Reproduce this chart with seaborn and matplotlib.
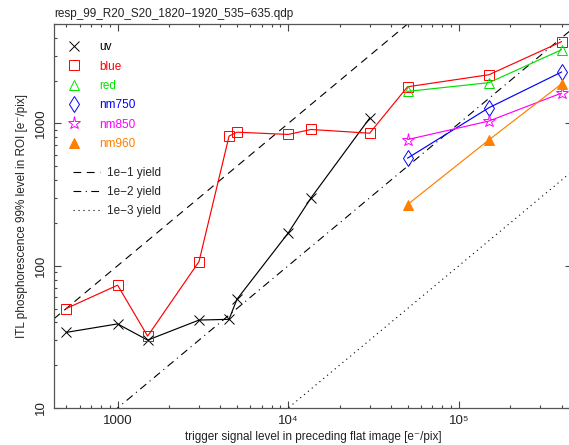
import numpy as np
import pandas as pd
import seaborn as sns
import matplotlib.pyplot as plt
from matplotlib.lines import Line2D
from matplotlib.ticker import FixedLocator, FixedFormatter, LogLocator, NullFormatter

sns.set_style("ticks")
plt.rcParams['font.family'] = ['Liberation Sans', 'DejaVu Sans']

# data (x: trigger level, y: 99% phosphorescence level)
uv_x = [500, 1000, 1500, 3000, 4500, 5000, 10000, 13600, 30000]
uv_y = [34, 39, 30, 41.5, 42, 58, 170, 300, 1090]
blue_x = [500, 1000, 1500, 3000, 4500, 5000, 10000, 13600, 30000, 50000, 150000, 400000]
blue_y = [50, 73, 32, 107, 815, 868, 837, 907, 854, 1810, 2200, 3760]
red_x = [50000, 150000, 400000]
red_y = [1680, 1935, 3300]
nm750_x = [50000, 150000, 400000]
nm750_y = [570, 1290, 2300]
nm850_x = [50000, 150000, 400000]
nm850_y = [770, 1040, 1635]
nm960_x = [50000, 150000, 400000]
nm960_y = [269, 767, 1900]

yields = [1e-1, 1e-2, 1e-3]
yield_labels = ['1e\u22121 yield', '1e\u22122 yield', '1e\u22123 yield']
yield_styles = [(0, (7, 5)), (0, (7, 4, 1, 4)), (0, (1, 3.5))]

series = [
    ('uv', uv_x, uv_y, 'black', 'x', 'black'),
    ('blue', blue_x, blue_y, '#ff0000', 's', 'none'),
    ('red', red_x, red_y, '#00e000', '^', 'none'),
    ('nm750', nm750_x, nm750_y, '#0000ff', 'd', 'none'),
    ('nm850', nm850_x, nm850_y, '#ff00ff', '*', 'none'),
    ('nm960', nm960_x, nm960_y, '#ff7f00', '^', '#ff7f00'),
]
sizes = {'x': 7, 's': 7.5, '^': 7.5, 'd': 8, '*': 9.5}

fig = plt.figure(figsize=(5.69, 4.45), dpi=100)
ax = fig.add_axes([54 / 569, 37 / 445, 518 / 569, 384 / 445])
ax.set_xscale('log')
ax.set_yscale('log')
xlim = (424, 4.6e5)
ax.set_xlim(xlim)
ax.set_ylim(10, 5000)

# reference yield lines y = yield * x
xx = np.array(xlim)
for yl, ls in zip(yields, yield_styles):
    ax.plot(xx, yl * xx, color='black', lw=0.8, linestyle=ls)

handles = []
for name, xs, ys, col, mk, fc in series:
    df = pd.DataFrame({'x': xs, 'y': ys})
    ms = sizes[mk]
    sns.lineplot(data=df, x='x', y='y', ax=ax, color=col, lw=0.85,
                 marker=mk, markersize=ms, markerfacecolor=fc,
                 markeredgecolor=col, markeredgewidth=0.7)
    handles.append(Line2D([], [], linestyle='none', marker=mk, markersize=ms,
                          markerfacecolor=fc, markeredgecolor=col,
                          markeredgewidth=0.7, label=name))

leg1 = ax.legend(handles=handles, loc='upper left', bbox_to_anchor=(0.021, 0.955),
                 frameon=False, fontsize=8.5, handlelength=1.5, handletextpad=1.4,
                 labelspacing=0.62, borderpad=0, borderaxespad=0,
                 labelcolor=[s[3] for s in series])
ax.add_artist(leg1)
yh = [Line2D([], [], color='black', lw=0.8, linestyle=ls, label=lb)
      for ls, lb in zip(yield_styles, yield_labels)]
ax.legend(handles=yh, loc='upper left', bbox_to_anchor=(0.036, 0.628),
          frameon=False, fontsize=8.5, handlelength=2.3, handletextpad=0.6,
          labelspacing=0.62, borderpad=0, borderaxespad=0)

ax.xaxis.set_major_locator(FixedLocator([1000, 1e4, 1e5]))
ax.xaxis.set_major_formatter(FixedFormatter(['1000', '10\u2074', '10\u2075']))
ax.xaxis.set_minor_locator(LogLocator(base=10, subs=np.arange(2, 10)))
ax.xaxis.set_minor_formatter(NullFormatter())
ax.yaxis.set_major_locator(FixedLocator([10, 100, 1000]))
ax.yaxis.set_major_formatter(FixedFormatter(['10', '100', '1000']))
ax.yaxis.set_minor_locator(LogLocator(base=10, subs=np.arange(2, 10)))
ax.yaxis.set_minor_formatter(NullFormatter())

ax.tick_params(which='both', direction='in', top=True, right=True,
               color='#444444', width=0.8, labelsize=9.5, labelcolor='#222222')
ax.tick_params(which='major', length=5)
ax.tick_params(which='minor', length=2.5)
ax.tick_params(axis='x', pad=5)
ax.tick_params(axis='y', pad=5)
for lab in ax.get_yticklabels():
    lab.set_rotation(90)
    lab.set_va('center')
for sp in ax.spines.values():
    sp.set_color('#555555')
    sp.set_linewidth(0.9)

ax.set_xlabel('trigger signal level in preceding flat image [e\u207b/pix]', fontsize=8.5,
              labelpad=3, color='#222222')
ax.set_ylabel('ITL phosphorescence 99% level in ROI [e\u207b/pix]', fontsize=8.5,
              labelpad=5, color='#222222')
ax.set_title('resp_99_R20_S20_1820\u22121920_535\u2212635.qdp', loc='left', fontsize=8.5,
             pad=5, color='#222222')

fig.savefig('out.png', dpi=100)
